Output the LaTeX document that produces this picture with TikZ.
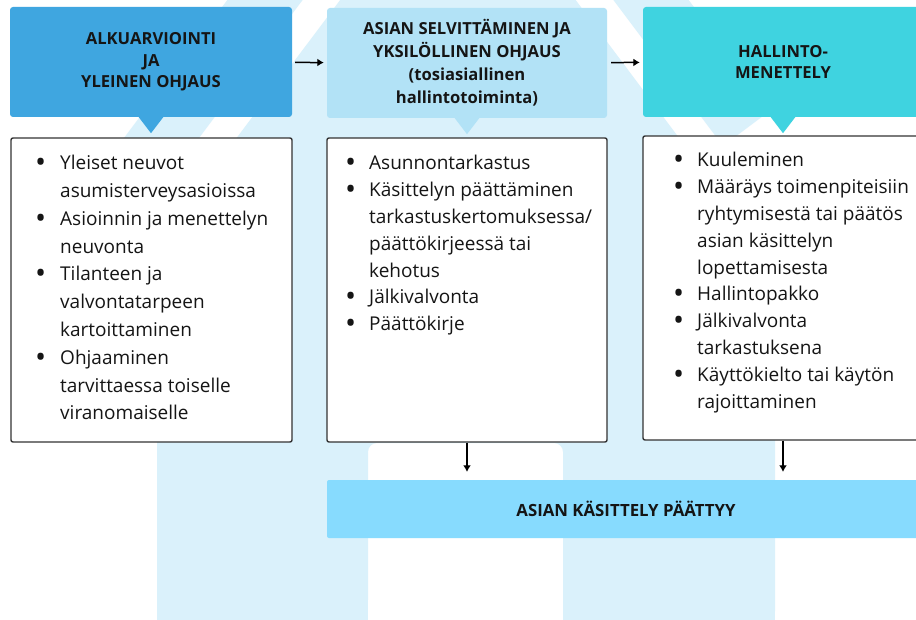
\documentclass[tikz,border=0pt]{standalone}
\usepackage{fontspec}
\setmainfont{Open Sans}
\usetikzlibrary{arrows.meta}
\definecolor{hdrA}{HTML}{3FA6E0}
\definecolor{hdrB}{HTML}{B2E2F6}
\definecolor{hdrC}{HTML}{3FD3E0}
\definecolor{barc}{HTML}{87DBFE}
\definecolor{housec}{HTML}{DAF1FB}
\definecolor{framec}{HTML}{333333}
\definecolor{ink}{HTML}{151515}
\newcommand\bul{\raisebox{-3pt}{\scalebox{1.55}{•}}}
\begin{document}
\begin{tikzpicture}[x=1pt,y=-1pt,
  hdr/.style={rounded corners=3pt, inner sep=0pt, minimum height=110pt, minimum width=280pt, align=center, text=ink, font=\bfseries\fontsize{16.6}{21.5}\selectfont},
  frame/.style={draw=framec, line width=1.4pt, fill=white, rounded corners=2pt, inner sep=0pt, minimum width=280pt, minimum height=304pt},
  listtext/.style={inner sep=0pt, anchor=north west, align=left, text=ink},
  arr/.style={draw=black, line width=1.5pt, -{Latex[length=6.5pt,width=8pt]}}
]
\useasboundingbox (0,0) rectangle (916,620);
\clip (0,0) rectangle (916,620);
\fill[white] (0,0) rectangle (916,620);
% house background: roof chevron
\fill[housec] (458,-308) -- (771,110) -- (723,146) -- (458,-207) -- (145,210) -- (97,174) -- cycle;
% house body with door
\fill[housec, rounded corners=9pt] (157,640) -- (157,244) -- (458,-157) -- (775,266) -- (775,620) -- (563,620) -- (563,443) -- (368,443) -- (368,620) -- (157,620) -- cycle;
\fill[housec] (157,600) rectangle (775,640);
\fill[white] (368,600) rectangle (563,640);

% headers
\node[hdr, fill=hdrA, minimum width=282pt] (h1) at (151,62) {ALKUARVIOINTI\\JA\\YLEINEN OHJAUS};
\node[hdr, fill=hdrB, font=\bfseries\fontsize{16.6}{23}\selectfont] (h2) at (467,63) {ASIAN SELVITTÄMINEN JA\\YKSILÖLLINEN OHJAUS\\(tosiasiallinen\\hallintotoiminta)};
\node[hdr, fill=hdrC] (h3) at (783,62) {HALLINTO-\\MENETTELY};
\foreach \h/\c in {h1/hdrA, h2/hdrB, h3/hdrC}{
  \fill[\c] ([xshift=-13pt,yshift=1pt]\h.south) -- ([xshift=13pt,yshift=1pt]\h.south) -- ([yshift=-16pt]\h.south) -- cycle;
}

% boxes
\node[frame, minimum width=281pt] (b1) at (151.5,290) {};
\node[frame] (b2) at (467,290) {};
\node[frame] (b3) at (783,288) {};

\node[listtext, font=\fontsize{19}{27.8}\selectfont] (t1) at (35,150) {\begin{tabular}{@{}p{25pt}@{}l@{}}
\bul&Yleiset neuvot\\
&asumisterveysasioissa\\
\bul&Asioinnin ja menettelyn\\
&neuvonta\\
\bul&Tilanteen ja\\
&valvontatarpeen\\
&kartoittaminen\\
\bul&Ohjaaminen\\
&tarvittaessa toiselle\\
&viranomaiselle
\end{tabular}};
\node[listtext, font=\fontsize{19}{26.8}\selectfont] (t2) at (345,151) {\begin{tabular}{@{}p{24pt}@{}l@{}}
\bul&Asunnontarkastus\\
\bul&Käsittelyn päättäminen\\
&tarkastuskertomuksessa/\\
&päättökirjeessä tai\\
&kehotus\\
\bul&Jälkivalvonta\\
\bul&Päättökirje
\end{tabular}};
\node[listtext, font=\fontsize{19}{26.8}\selectfont] (t3) at (673,148) {\begin{tabular}{@{}p{24pt}@{}l@{}}
\bul&Kuuleminen\\
\bul&Määräys toimenpiteisiin\\
&ryhtymisestä tai päätös\\
&asian käsittelyn\\
&lopettamisesta\\
\bul&Hallintopakko\\
\bul&Jälkivalvonta\\
&tarkastuksena\\
\bul&Käyttökielto tai käytön\\
&rajoittaminen
\end{tabular}};

% end bar
\node[fill=barc, rounded corners=2pt, inner sep=0pt, minimum width=598pt, minimum height=58pt, text=ink, font=\bfseries\fontsize{16.8}{20}\selectfont] (bar) at (626,509) {ASIAN KÄSITTELY PÄÄTTYY};

% connectors
\draw[arr, shorten <=3pt, shorten >=3pt] (h1) -- (h2);
\draw[arr, shorten <=4pt, shorten >=3pt] (h2) -- (h3);
\draw[arr, shorten >=8pt] (b2.south) -- (b2.south |- bar.north);
\draw[arr, shorten >=8pt] (b3.south) -- (b3.south |- bar.north);
\end{tikzpicture}
\end{document}
